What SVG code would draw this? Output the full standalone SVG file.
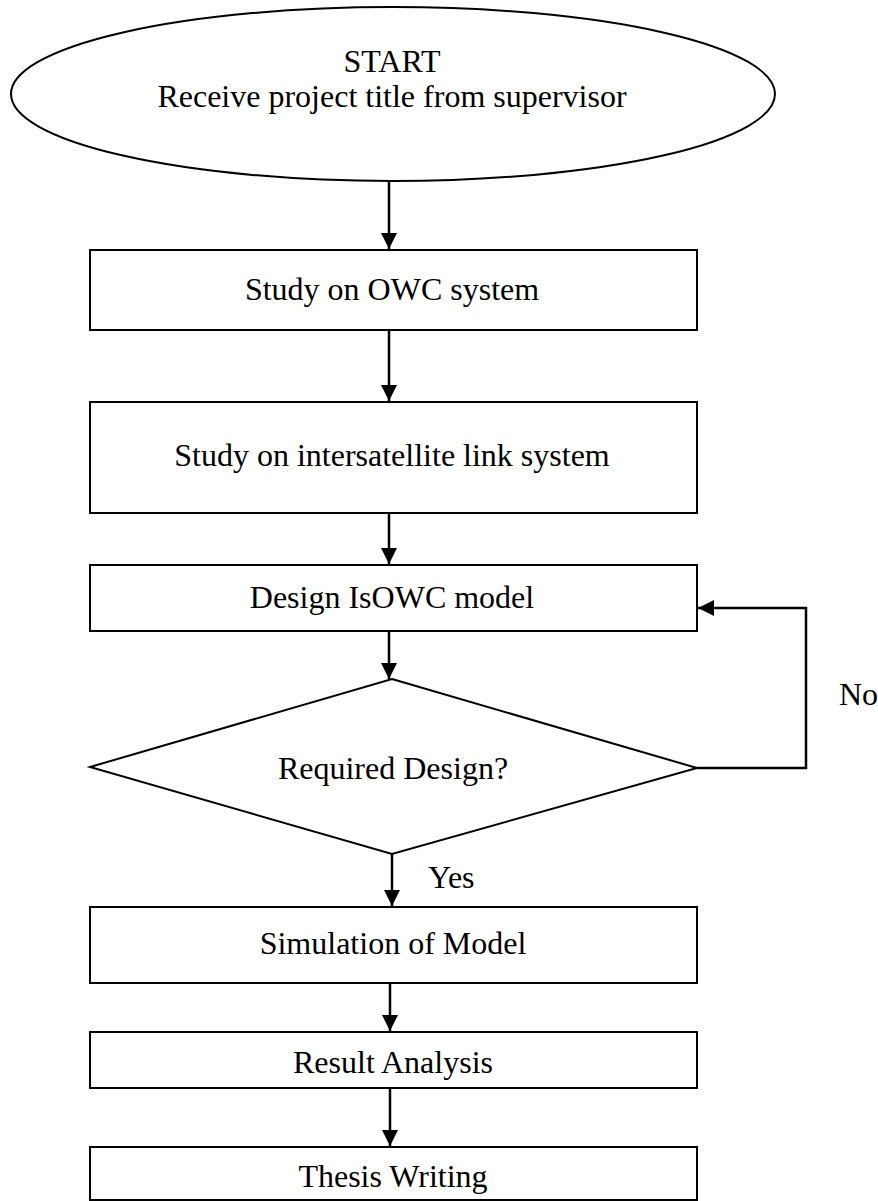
<svg xmlns="http://www.w3.org/2000/svg" width="878" height="1201" viewBox="0 0 878 1201">
<style>
.shape{fill:#fff;stroke:#000;stroke-width:2}
.t{font-family:"Liberation Serif","Times New Roman",serif;font-size:32px;fill:#000;text-anchor:middle}
.lbl{font-family:"Liberation Serif","Times New Roman",serif;font-size:32px;fill:#000}
.c{fill:none;stroke:#000;stroke-width:2.5}
</style>
<defs>
<marker id="ah" viewBox="0 0 16 16" refX="16" refY="8" markerWidth="16" markerHeight="16" markerUnits="userSpaceOnUse" orient="auto">
<path d="M0,0 L16,8 L0,16 Z" fill="#000"/>
</marker>
</defs>
<rect width="878" height="1201" fill="#fff"/>
<g id="connectors">
<line class="c" x1="389" y1="181" x2="389" y2="249" marker-end="url(#ah)"/>
<line class="c" x1="389" y1="331" x2="389" y2="401" marker-end="url(#ah)"/>
<line class="c" x1="389" y1="513" x2="389" y2="564" marker-end="url(#ah)"/>
<line class="c" x1="389" y1="631" x2="389" y2="679" marker-end="url(#ah)"/>
<line class="c" x1="392" y1="854" x2="392" y2="906" marker-end="url(#ah)"/>
<line class="c" x1="390" y1="983" x2="390" y2="1031" marker-end="url(#ah)"/>
<line class="c" x1="390" y1="1088" x2="390" y2="1146" marker-end="url(#ah)"/>
<polyline class="c" points="697,768 806,768 806,608 698,608" marker-end="url(#ah)"/>
<text class="lbl" x="428" y="888">Yes</text>
<text class="lbl" x="839" y="705">No</text>
</g>
<g id="start">
<ellipse class="shape" cx="393" cy="94" rx="382" ry="87"/>
<text class="t" x="392" y="72">START</text>
<text class="t" x="392" y="107">Receive project title from supervisor</text>
</g>
<g id="owc">
<rect class="shape" x="90" y="250" width="607" height="80"/>
<text class="t" x="392" y="300">Study on OWC system</text>
</g>
<g id="isl">
<rect class="shape" x="90" y="402" width="607" height="111"/>
<text class="t" x="392" y="466">Study on intersatellite link system</text>
</g>
<g id="design">
<rect class="shape" x="90" y="565" width="607" height="66"/>
<text class="t" x="392" y="608">Design IsOWC model</text>
</g>
<g id="decision">
<polygon class="shape" points="392,679 697,768 392,854 90,767"/>
<text class="t" x="393" y="779">Required Design?</text>
</g>
<g id="simulation">
<rect class="shape" x="90" y="907" width="607" height="76"/>
<text class="t" x="393" y="954">Simulation of Model</text>
</g>
<g id="result">
<rect class="shape" x="90" y="1032" width="607" height="56"/>
<text class="t" x="393" y="1073">Result Analysis</text>
</g>
<g id="thesis">
<rect class="shape" x="90" y="1147" width="607" height="53"/>
<text class="t" x="393" y="1187">Thesis Writing</text>
</g>
</svg>
